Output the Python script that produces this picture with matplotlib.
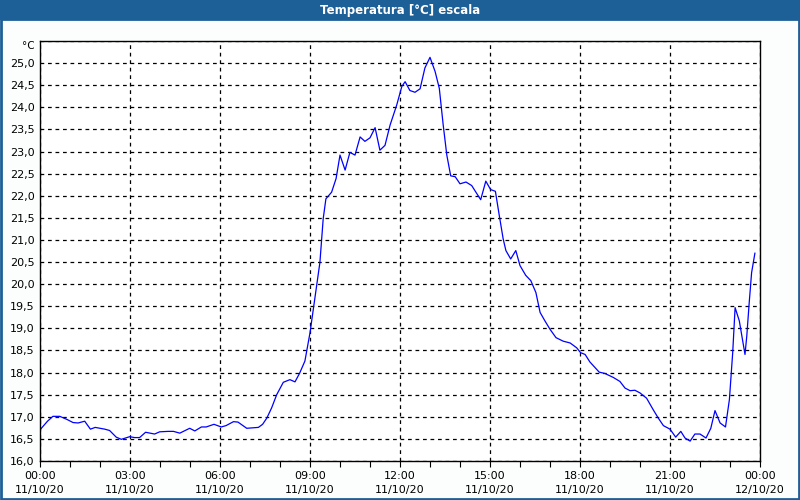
import matplotlib
matplotlib.use("Agg")
import matplotlib.pyplot as plt
from matplotlib.patches import Rectangle
from matplotlib.ticker import MultipleLocator, FuncFormatter

# hours since 00:00 of 11/10/20, temperature in °C
hours = [0.02, 0.25, 0.43, 0.66, 0.9, 1.1, 1.27, 1.49, 1.68, 1.84, 2.16, 2.32,
         2.54, 2.71, 2.99, 3.15, 3.32, 3.52, 3.82, 3.99, 4.27, 4.45, 4.66, 4.99,
         5.16, 5.38, 5.54, 5.8, 6.04, 6.2, 6.45, 6.6, 6.89, 7.28, 7.42, 7.56,
         7.72, 7.89, 8.11, 8.33, 8.5, 8.65, 8.83, 9.0, 9.22, 9.33, 9.44, 9.53,
         9.72, 9.87, 10.0, 10.17, 10.33, 10.5, 10.67, 10.83, 11.0, 11.17, 11.33,
         11.5, 11.67, 11.89, 12.06, 12.17, 12.33, 12.5, 12.67, 12.83, 13.0, 13.17,
         13.31, 13.44, 13.56, 13.69, 13.84, 14.0, 14.2, 14.39, 14.69, 14.86,
         15.02, 15.18, 15.31, 15.44, 15.53, 15.69, 15.86, 16.0, 16.19, 16.36,
         16.53, 16.67, 16.83, 17.0, 17.2, 17.44, 17.67, 17.89, 18.02, 18.17,
         18.33, 18.64, 18.83, 19.11, 19.33, 19.5, 19.67, 19.83, 20.0, 20.22,
         20.44, 20.61, 20.78, 21.0, 21.19, 21.36, 21.5, 21.67, 21.83, 22.0,
         22.2, 22.36, 22.5, 22.67, 22.85, 22.98, 23.09, 23.17, 23.31, 23.5,
         23.56, 23.64, 23.72, 23.83]
temps = [16.72, 16.9, 17.01, 17.01, 16.94, 16.87, 16.86, 16.9, 16.72, 16.76,
         16.72, 16.69, 16.54, 16.49, 16.55, 16.53, 16.53, 16.65, 16.61, 16.66,
         16.67, 16.67, 16.63, 16.74, 16.68, 16.77, 16.77, 16.83, 16.77, 16.8,
         16.89, 16.88, 16.74, 16.76, 16.83, 16.97, 17.2, 17.5, 17.78, 17.84,
         17.79, 17.98, 18.26, 18.9, 19.96, 20.49, 21.48, 21.93, 22.08, 22.39,
         22.92, 22.58, 22.98, 22.92, 23.33, 23.23, 23.31, 23.54, 23.03, 23.14,
         23.6, 24.05, 24.47, 24.58, 24.38, 24.34, 24.42, 24.89, 25.13, 24.81,
         24.43, 23.6, 22.92, 22.45, 22.43, 22.27, 22.31, 22.23, 21.91, 22.33,
         22.14, 22.1, 21.55, 21.02, 20.76, 20.57, 20.76, 20.42, 20.2, 20.08,
         19.81, 19.36, 19.17, 18.98, 18.79, 18.71, 18.67, 18.56, 18.45, 18.41,
         18.24, 18.01, 17.98, 17.89, 17.8, 17.65, 17.59, 17.6, 17.54, 17.42,
         17.16, 16.97, 16.8, 16.72, 16.54, 16.67, 16.52, 16.45, 16.61, 16.61,
         16.52, 16.74, 17.14, 16.86, 16.77, 17.39, 18.45, 19.47, 19.17, 18.41,
         18.83, 19.58, 20.26, 20.7]

tick_hours = [0, 3, 6, 9, 12, 15, 18, 21, 24]
tick_labels = ["00:00\n11/10/20", "03:00\n11/10/20", "06:00\n11/10/20",
               "09:00\n11/10/20", "12:00\n11/10/20", "15:00\n11/10/20",
               "18:00\n11/10/20", "21:00\n11/10/20", "00:00\n12/10/20"]

frame_blue = "#1d5f97"

fig = plt.figure(figsize=(8, 5), dpi=100)
fig.patch.set_facecolor("#fcfdfd")

# title bar and blue frame
fig.patches.append(Rectangle((0, 0.96), 1, 0.04, transform=fig.transFigure,
                             facecolor=frame_blue, edgecolor="none", zorder=0))
fig.patches.append(Rectangle((0.0015, 0.002), 0.997, 0.96, transform=fig.transFigure,
                             facecolor="none", edgecolor=frame_blue, lw=2, zorder=0))
fig.text(0.5, 0.979, "Temperatura [°C] escala", color="white", fontsize=8.5,
         fontweight="bold", ha="center", va="center")

ax = fig.add_axes([0.05, 0.078, 0.9, 0.84])
ax.set_facecolor("white")
ax.plot(hours, temps, color="#0000ff", lw=0.9)

ax.set_xlim(0, 24)
ax.set_ylim(16, 25.5)
ax.set_xticks(tick_hours)
ax.set_xticklabels(tick_labels, linespacing=1.55)
ax.xaxis.set_minor_locator(MultipleLocator(1))
ax.yaxis.set_major_locator(MultipleLocator(0.5))
ax.yaxis.set_major_formatter(FuncFormatter(
    lambda v, p: "" if v > 25.2 else f"{v:.1f}".replace(".", ",")))

ax.grid(True, color="black", ls=(0, (3, 3)), lw=0.9)
ax.tick_params(axis="x", which="both", direction="out", length=4, width=0.8,
               labelsize=8, pad=3)
ax.tick_params(axis="y", length=0, labelsize=8, pad=4)
for s in ax.spines.values():
    s.set_color("black")
    s.set_linewidth(1)

fig.text(0.043, 0.908, "°C", fontsize=7.5, ha="right", va="center")

fig.savefig("out.png", dpi=100, facecolor=fig.get_facecolor())
